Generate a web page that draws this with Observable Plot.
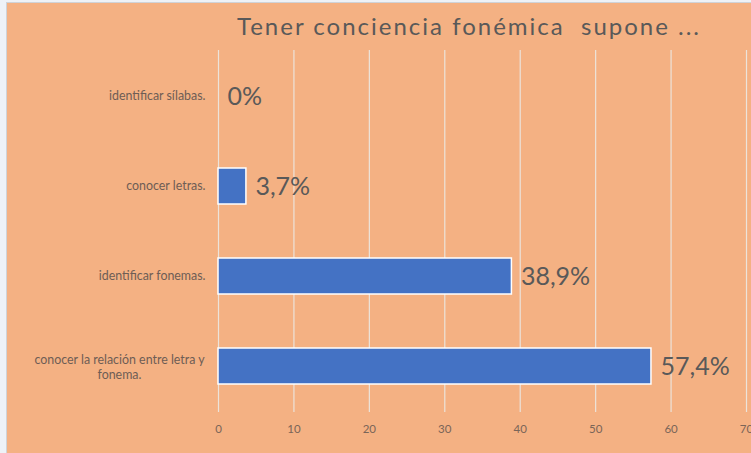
<!DOCTYPE html>
<html>
<head>
<meta charset="utf-8">
<script src="https://cdn.jsdelivr.net/npm/d3@7"></script>
<script src="https://cdn.jsdelivr.net/npm/@observablehq/plot@0.6"></script>
<style>
  html, body { margin: 0; padding: 0; background: #eef2f7; }
  #chart {
    position: absolute; left: 6px; top: 2px; width: 744px; height: 450px;
    background: #F4B183; border-top: 1px solid #cfd3d8; border-left: 1px solid #cfd3d8;
    overflow: hidden;
  }
  #title {
    height: 46px; box-sizing: border-box; padding-top: 11px; padding-left: 180px;
    text-align: center; font: 24px Lato, "Open Sans", sans-serif; line-height: 24px;
    letter-spacing: 2px; color: #595959; white-space: nowrap;
  }
  svg { display: block; }
</style>
</head>
<body>
<div id="chart"><div id="title">Tener conciencia fonémica&nbsp; supone ...</div></div>
<script>
const title = "Tener conciencia fonémica  supone ...";
const categories = [
  "identificar sílabas.",
  "conocer letras.",
  "identificar fonemas.",
  "conocer la relación entre letra y fonema."
];
const values = [0, 3.7, 38.9, 57.4];
const valueLabels = ["0%", "3,7%", "38,9%", "57,4%"];
const xTicks = [0, 10, 20, 30, 40, 50, 60, 70];

const data = categories.map((c, i) => ({category: c, value: values[i], label: valueLabels[i]}));
const longCat = categories[3];
const shortCats = categories.filter(c => c !== longCat);

const plot = Plot.plot({
  width: 744,
  height: 404,
  marginTop: 1,
  marginBottom: 41,
  marginLeft: 211,
  marginRight: 5,
  style: {background: "transparent", fontFamily: "Lato, 'Open Sans', sans-serif"},
  x: {domain: [0, 70], ticks: xTicks},
  y: {domain: categories, paddingInner: 0.6, paddingOuter: 0.3},
  marks: [
    Plot.gridX(xTicks, {stroke: "#ece3da", strokeOpacity: 1, strokeWidth: 1.2}),
    Plot.axisX({ticks: xTicks, tickSize: 0, tickPadding: 12, fontSize: 11.5, fill: "#7a6558", label: null}),
    Plot.axisY({ticks: shortCats, tickSize: 0, tickPadding: 13, fontSize: 12.4, fill: "#6e5d55", label: null}),
    Plot.axisY({ticks: [longCat], tickSize: 0, textAnchor: "middle", dx: -90, fontSize: 12.4, fill: "#6e5d55", label: null, lineHeight: 1.25,
      tickFormat: d => "conocer la relación entre letra y\nfonema."}),
    Plot.barX(data, {x: "value", y: "category", fill: "#4472C4", stroke: "white", strokeWidth: 1.5}),
    Plot.text(data, {x: "value", y: "category", text: "label", textAnchor: "start", dx: 9, fontSize: 25, letterSpacing: 0.6, fill: "#595959"})
  ]
});
document.getElementById("chart").appendChild(plot);
</script>
</body>
</html>
